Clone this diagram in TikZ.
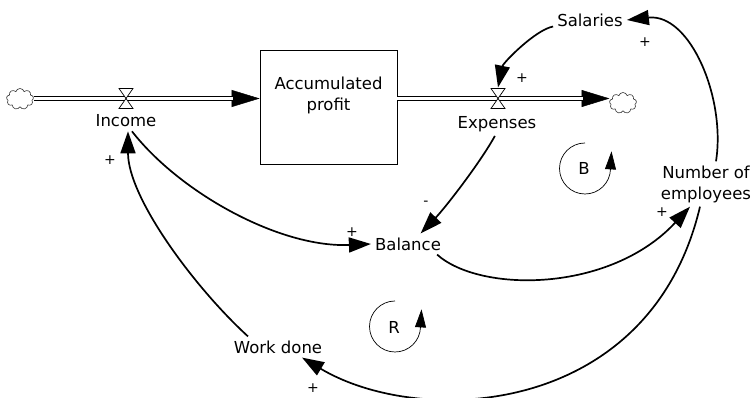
\documentclass[tikz,border=0pt]{standalone}
\usepackage{fontspec}
\setmainfont{DejaVu Sans}
\usepackage{tikz}
\usetikzlibrary{arrows.meta}
\usetikzlibrary{shapes.symbols}
\tikzstyle{sd}=[x=1pt, y=1pt, font=\fontsize{16.5}{21}\selectfont]
\tikzstyle{stock}=[rectangle, draw, line width=0.8pt, minimum width=137pt, minimum height=114pt]
\tikzstyle{var}=[inner sep=4pt, align=center]
\tikzstyle{sign}=[inner sep=0pt, font=\fontsize{14}{14}\selectfont]
\tikzstyle{cloudy}=[cloud, cloud puffs=9, draw=black!80, line width=0.6pt, minimum width=27pt, minimum height=21pt, inner sep=0pt]
\tikzstyle{pipe}=[draw=black, double=white, double distance=3pt, line width=0.8pt]
\tikzstyle{pipetip}=[-{Triangle[length=28pt, width=17pt]}, line width=0.5pt]
\tikzstyle{valve}=[draw, fill=white, line width=0.7pt]
\tikzstyle{link}=[-{Triangle[length=22pt, width=15pt]}, line width=1.7pt]
\tikzstyle{loopmark}=[-{Triangle[length=18pt, width=11pt]}, line width=0.7pt]

\begin{document}
\begin{tikzpicture}[sd]
	\useasboundingbox (0,0) rectangle (755,398);
	% stock, clouds and valves
	\draw (328.5,291) node[stock, label={[align=center, yshift=12pt]center:Accumulated\\profit}] (profit) {};
	\draw (20,299) node[cloudy] (srcL) {};
	\draw (623,295) node[cloudy] (sinkR) {};
	\coordinate (inflow) at (126,299.5);
	\coordinate (outflow) at (498,299.5);
	% flows
	\draw[pipetip] (srcL.east |- inflow) -- (profit.west |- inflow);
	\draw[pipe, shorten >=27pt] (srcL.east |- inflow) -- (profit.west |- inflow);
	\draw[pipetip] (profit.east |- outflow) -- (sinkR.west |- outflow);
	\draw[pipe, shorten >=27pt] (profit.east |- outflow) -- (sinkR.west |- outflow);
	\draw[valve, shift={(inflow)}] (-7,10) -- (7,10) -- (-7,-10) -- (7,-10) -- cycle;
	\draw[valve, shift={(outflow)}] (-7,10) -- (7,10) -- (-7,-10) -- (7,-10) -- cycle;
	% variables
	\draw (126,277) node[var] (income) {Income};
	\draw (497,274) node[var] (expenses) {Expenses};
	\draw (590,378) node[var] (salaries) {Salaries};
	\draw (706,214) node[var] (employees) {Number of\\employees};
	\draw (408,154) node[var] (balance) {Balance};
	\draw (278,51) node[var] (workdone) {Work done};
	% links
	\draw[link] (salaries.190) .. controls (535,368) and (503,335) .. ([yshift=11pt]outflow);
	\draw[link] ([xshift=10pt]employees.north) .. controls (726,300) and (690,385) .. (salaries.east);
	\draw[link] (income.-60) .. controls (180,205) and (280,150) .. (balance.west);
	\draw[link] (expenses.-100) .. controls (480,235) and (445,190) .. (balance.40);
	\draw[link] (balance.-20) .. controls (480,105) and (610,105) .. ([xshift=-16pt]employees.south);
	\draw[link] ([xshift=-6pt]employees.south) .. controls (650,-20) and (420,-30) .. ([xshift=24pt]workdone.south);
	\draw[link] ([xshift=-30pt]workdone.north) .. controls (195,110) and (128,200) .. ([xshift=2pt]income.south);
	% polarities
	\draw (522,320) node[sign] (sgnA) {+};
	\draw (645,356) node[sign] (sgnB) {+};
	\draw (352,166) node[sign] (sgnC) {+};
	\draw (426,195) node[sign] (sgnD) {-};
	\draw (662,186) node[sign] (sgnE) {+};
	\draw (313,10) node[sign] (sgnF) {+};
	\draw (110,238) node[sign] (sgnG) {+};
	% loop markers
	\draw (584,230) node (loopB) {B};
	\draw[loopmark] ([shift={(90:25.5)}]585,229.5) arc[start angle=90, end angle=358, radius=25.5] -- ++(1,18);
	\draw (394,71) node (loopR) {R};
	\draw[loopmark] ([shift={(90:25.5)}]395,71.5) arc[start angle=90, end angle=358, radius=25.5] -- ++(1,18);
\end{tikzpicture}
\end{document}
